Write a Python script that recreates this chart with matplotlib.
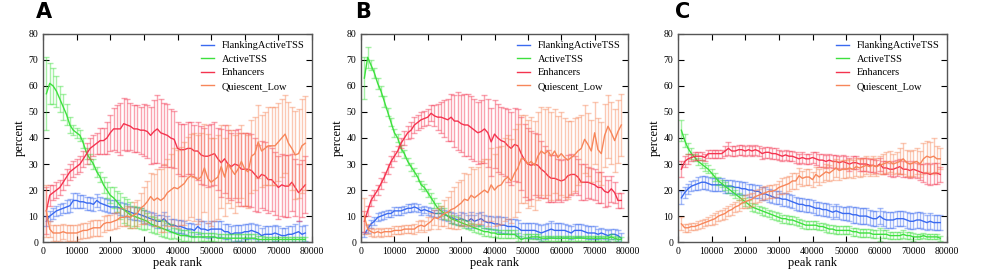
import numpy as np
import matplotlib
matplotlib.use("Agg")
import matplotlib.pyplot as plt

# =========================================
# DATA (percent per 1000-peak bin)
# =========================================
peak_rank = np.arange(1000, 79000, 1000)

labels = ["FlankingActiveTSS", "ActiveTSS", "Enhancers", "Quiescent_Low"]

# ---- panel A ----
a_flank = [8, 10, 11, 12, 12.5, 13, 13.5, 14, 16, 16,
           15.5, 15.5, 15, 15, 14.5, 16, 15, 14.5, 14, 13.5,
           13.5, 13.5, 13, 12.5, 12, 11.5, 11, 11, 10.5, 10,
           9.5, 9, 8.5, 8, 8, 9, 7.5, 6.5, 6.5, 6,
           6, 5.5, 5, 5, 4.5, 6, 5, 5, 4.5, 5,
           5, 5, 5, 4, 4, 3, 3.5, 3.5, 3.5, 4,
           4, 4.5, 4, 3.5, 2.5, 3, 3, 3, 3.5, 3,
           2.5, 2.5, 3, 3, 3.5, 4, 3, 3.5]
a_flank_err = [2, 2, 2, 2, 2, 2, 2.5, 2.5, 3, 3,
               2.5, 2.5, 2.5, 2.5, 2.5, 2.5, 2.5, 2.5, 2.5, 2.5,
               2.5, 2.5, 2.5, 2.5, 2.5, 2.5, 2.5, 2.5, 2.5, 2.5,
               2.5, 2.5, 2.5, 2.5, 2.5, 2.5, 2.5, 2.5, 2.5, 2.5,
               2.5, 2.5, 2.5, 2.5, 2.5, 3, 3, 3, 3, 3,
               3, 3, 3, 3, 3, 3, 3, 3, 3, 3,
               3, 3, 3, 3, 3, 3, 3, 3, 3, 3,
               3, 3, 3, 3, 3.5, 4, 3, 3]
a_active = [57, 61, 60, 58, 55, 52, 49, 45, 43, 42,
            41, 38, 34, 32, 30, 27, 25, 22, 20, 18,
            17, 15.5, 14, 12.5, 11.5, 10.5, 10, 9.5, 9, 8.5,
            8, 7, 6.5, 6, 5.5, 5, 4.5, 4, 3.5, 3,
            2.5, 2.5, 2.5, 2, 2, 2, 2, 2, 2, 2,
            2, 1.5, 1.5, 1.5, 1.5, 1.5, 1.5, 1.5, 1.5, 1.5,
            1.5, 1.5, 1.5, 1, 1, 1, 1, 1, 1, 1,
            1, 1, 1, 1, 1, 1, 1, 1]
a_active_err = [14, 8, 7, 6, 5, 5, 4, 3, 2, 2,
                2, 2, 2, 2, 2, 2, 2, 3, 3, 3,
                4, 4, 5, 5, 5, 5, 4, 4, 4, 4,
                3, 3, 3, 3, 3, 3, 3, 3, 2, 2,
                2, 2, 2, 2, 2, 2, 1.5, 1.5, 1.5, 1.5,
                1.5, 1.5, 1.5, 1.5, 1.5, 1.5, 1.5, 1.5, 1.5, 1.5,
                1.5, 1.5, 1.5, 1.5, 1.5, 1, 1, 1, 1, 1,
                1, 1, 1, 1, 1, 1, 1, 1]
a_enh = [12, 18, 19, 20, 21, 23, 25, 27, 28, 29,
         30, 32, 34, 36, 37, 38, 39, 39, 40, 42,
         43.5, 43.5, 43.5, 45.5, 45, 44.5, 43.5, 43.5, 43, 43,
         42.5, 41, 42.5, 43.5, 42, 41.5, 41, 40, 39.5, 36,
         35.5, 35.5, 36, 36, 35, 35, 33.5, 33, 33, 33.5,
         34, 32, 30.5, 32, 30, 29, 30, 29.5, 28, 28,
         28, 27.5, 26, 24.5, 26, 25.5, 24, 24, 22.5, 21,
         22, 21.5, 21.5, 23, 21, 19, 20.5, 22]
a_enh_err = [9, 4, 3, 3, 3, 3, 3, 3, 3, 3,
             3, 3, 4, 4, 4, 4, 5, 5, 6, 7,
             8, 9, 10, 10, 10, 9, 9, 9, 9, 10,
             10, 11, 12, 13, 13, 12, 12, 11, 11, 10,
             10, 10, 10, 10, 10, 11, 11, 11, 12, 12,
             12, 12, 13, 13, 13, 13, 13, 14, 14, 14,
             14, 14, 14, 13, 13, 13, 13, 12, 12, 12,
             12, 12, 12, 11, 11, 11, 11, 11]
a_quies = [12, 5, 3.5, 3.5, 3.5, 4, 3.5, 3.5, 3.5, 3.5,
           4, 4.5, 4.5, 5, 5.5, 5.5, 5.5, 7, 7.5, 7.5,
           8, 8.5, 9.5, 9.5, 10, 9.5, 10.5, 11, 13, 14,
           15.5, 17.5, 16, 17, 16, 17, 19, 20, 21, 20.5,
           21.5, 22.5, 24.5, 25.5, 25, 24, 25, 28.5, 24.5, 23,
           24, 25, 29, 25, 30, 28, 26, 28, 31, 28,
           27, 33, 34, 38.5, 35, 36, 37, 37, 37, 38.5,
           40, 41.5, 38, 36, 33.5, 34, 37, 38]
a_quies_err = [10, 3, 3, 3, 3, 3, 3, 3, 3, 3,
               3, 3, 3, 3, 3, 3, 3, 3, 3, 3,
               3, 3, 3.5, 3.5, 4, 4, 5, 5, 6, 7,
               8, 9, 10, 11, 12, 13, 13, 14, 15, 15,
               15, 16, 16, 16, 17, 17, 17, 17, 17, 17,
               16, 16, 16, 15, 15, 15, 15, 14, 14, 14,
               14, 14, 14, 14, 14, 14, 15, 15, 15, 15,
               15, 15, 16, 16, 17, 17, 18, 18]

# ---- panel B ----
b_flank = [3, 5, 7, 8, 9.5, 10, 10.5, 11, 11, 12,
           12, 12, 12.5, 13, 13, 13.5, 13, 12, 12.5, 12,
           11.5, 11, 11, 11, 10.5, 10, 9.5, 9, 8.5, 9,
           8.5, 8, 9, 8, 8.5, 9, 8, 7.5, 7.5, 7,
           7, 6.5, 6.5, 6, 6, 6, 5.5, 4.5, 4.5, 4.5,
           4.5, 4.5, 4, 3.5, 4, 4.5, 5, 4.5, 4.5, 4.5,
           4.5, 4, 3.5, 4.5, 4.5, 4.5, 4, 3.5, 3.5, 3.5,
           3, 3.5, 3, 2.5, 3, 3, 2.5, 1.5]
b_flank_err = [1, 1.5, 1.5, 1.5, 1.5, 1.5, 1.5, 1.5, 1.5, 1.5,
               1.5, 1.5, 1.5, 1.5, 1.5, 1.5, 1.5, 1.5, 1.5, 1.5,
               1.5, 1.5, 1.5, 2, 2, 2, 2, 2, 2, 2.5,
               2.5, 2.5, 2.5, 2.5, 2.5, 2.5, 2.5, 2.5, 2.5, 2.5,
               3, 3, 3, 3, 3, 3, 3, 3, 3, 3,
               3, 3, 3, 3, 3, 3, 3, 3, 3, 3,
               2.5, 2.5, 2.5, 2.5, 2.5, 2.5, 2.5, 2.5, 2.5, 2.5,
               2, 2, 2, 2, 2, 2, 2, 2]
b_active = [63, 71, 68, 65, 61, 58, 54, 50, 46, 42,
            40, 36, 34, 31, 29, 27, 25, 22, 21, 19,
            17, 15, 13, 12, 11, 10, 9, 8.5, 8, 7.5,
            7, 6.5, 6, 5.5, 5, 4.5, 4, 4, 3.5, 3.5,
            3, 3, 3, 3, 3, 3, 2, 1, 1.5, 1.5,
            2, 2, 2, 1.5, 1.5, 1.5, 1.5, 1.5, 1.5, 1.5,
            1.5, 1.5, 1.5, 1.5, 1.5, 1.5, 1.5, 1.5, 1.5, 1.5,
            1.5, 1.5, 1.5, 1.5, 2, 1.5, 1, 1]
b_active_err = [8, 4, 2, 2, 2, 2, 2, 1.5, 1.5, 1.5,
                1.5, 1.5, 1.5, 1.5, 1.5, 1.5, 1.5, 1.5, 1.5, 1.5,
                2, 2, 2, 2, 2, 1.5, 1.5, 1.5, 1.5, 1.5,
                1.5, 1.5, 1.5, 1.5, 1.5, 1.5, 1.5, 1.5, 1.5, 1.5,
                1.5, 1.5, 1.5, 1.5, 1.5, 1.5, 1.5, 1.5, 1.5, 1.5,
                1, 1, 1, 1, 1, 1, 1, 1, 1, 1,
                1, 1, 1, 1, 1, 1, 1, 1, 1, 1,
                1, 1, 1, 1, 1, 1, 1, 1]
b_enh = [8, 12, 16, 18, 20, 22.5, 25, 28, 31, 33,
         35, 38, 40, 42, 43, 45, 46, 47, 47.5, 48,
         49.5, 48.5, 48, 48, 47.5, 47, 48, 46.5, 46.5, 45.5,
         45, 45, 44, 43, 42, 42.5, 43.5, 42, 38.5, 41.5,
         40, 39, 38.5, 37, 36, 37.5, 37, 34, 31.5, 30,
         29.5, 30, 29.5, 28, 27, 25.5, 24.5, 24.5, 24, 23.5,
         24, 25.5, 26, 26, 25, 23, 23, 23, 22.5, 22,
         21, 21, 19.5, 19, 20.5, 19, 16, 16]
b_enh_err = [4, 2, 2, 2, 2, 2, 2, 2, 2, 2,
             2, 2, 2.5, 2.5, 3, 3, 3, 3, 3, 3,
             3, 4, 5, 6, 7, 8, 9, 10, 11, 11,
             12, 12, 12, 12, 12, 12, 13, 13, 13, 13,
             13, 13, 13, 14, 14, 14, 14, 14, 14, 14,
             13, 12, 12, 11, 10, 10, 9, 9, 8, 8,
             8, 8, 8, 7, 7, 7, 7, 6, 6, 6,
             6, 6, 6, 5, 5, 4, 3, 3]
b_quies = [10, 5, 4, 3.5, 4, 3.5, 4, 4, 4, 4.5,
           4.5, 4.5, 5, 5, 5, 5, 6, 6.5, 6, 7,
           8, 9.5, 9, 10, 11, 11.5, 12.5, 13, 14, 15,
           16.5, 16, 18, 17, 18, 19, 20, 19, 22, 20,
           21.5, 22, 24, 25, 23.5, 26.5, 28.5, 32, 32, 30,
           31, 29.5, 33, 35, 34, 35, 33, 35, 32.5, 34,
           32.5, 31.5, 32.5, 33.5, 35, 36, 39.5, 37.5, 35, 42,
           35.5, 34, 41, 44.5, 42, 39, 42.5, 45]
b_quies_err = [7, 2, 1.5, 1.5, 1.5, 1.5, 1.5, 1.5, 1.5, 1.5,
               1.5, 1.5, 1.5, 1.5, 1.5, 2, 2, 2, 2, 2.5,
               3, 3, 4, 4, 5, 6, 7, 8, 9, 9,
               10, 10, 11, 11, 11, 12, 12, 13, 14, 14,
               15, 15, 16, 16, 16, 17, 17, 17, 17, 17,
               17, 17, 17, 17, 17, 17, 17, 16, 16, 16,
               15, 15, 14, 14, 13, 13, 13, 12, 12, 12,
               12, 12, 12, 12, 12, 12, 12, 12]

# ---- panel C ----
c_flank = [17, 19, 20.5, 21.5, 22, 22.5, 23, 23, 22.5, 22,
           22, 22, 22, 21.5, 21.5, 21.5, 21, 21, 20.5, 20.5,
           20, 20, 19.5, 19.5, 18.5, 18.5, 18, 17.5, 17, 17,
           16.5, 16.5, 16, 15.5, 15, 14.5, 14.5, 14, 14, 13.5,
           13, 13, 12.5, 12.5, 12, 11.5, 12, 11.5, 11, 11,
           11, 10.5, 10.5, 10, 10, 10, 9.5, 9, 9, 10,
           9, 8.5, 8.5, 8.5, 9, 9, 9, 8.5, 8, 8,
           8.5, 8.5, 8, 7.5, 8, 7.5, 7.5, 7.5]
c_flank_err = [2.5, 2, 2, 2, 2, 2.5, 2.5, 2.5, 2.5, 2.5,
               2.5, 2.5, 2.5, 2.5, 2.5, 2.5, 2.5, 2.5, 2.5, 2.5,
               2.5, 2.5, 2.5, 2.5, 2.5, 2.5, 2.5, 2.5, 2.5, 2.5,
               2.5, 2.5, 2.5, 2.5, 2.5, 2.5, 2.5, 2.5, 2.5, 2.5,
               2.5, 2.5, 2.5, 2.5, 2.5, 2.5, 2.5, 2.5, 2.5, 2.5,
               3, 3, 3, 3, 3, 3, 3, 3, 3, 3,
               3, 3, 3, 3, 3, 3, 3, 3, 3, 3,
               3, 3, 3, 3, 3, 3, 3, 3]
c_active = [43, 39, 36, 34, 32.5, 31, 30, 29, 28, 26.5,
            25, 23.5, 22.5, 21.5, 20.5, 19.5, 18.5, 17.5, 16.5, 15.5,
            14.5, 13.5, 13, 12.5, 12, 11.5, 11, 10.5, 10, 9.5,
            9, 9, 8.5, 8.5, 8, 7.5, 7, 6.5, 6.5, 6.5,
            6.5, 6, 6, 5.5, 5, 5, 4.5, 4.5, 4.5, 4.5,
            4.5, 4, 4, 3.5, 3.5, 3.5, 3.5, 3, 3, 3,
            3, 3, 2.5, 2.5, 2.5, 2.5, 3, 2.5, 2.5, 2,
            2, 2, 2.5, 2, 2, 2, 2, 1.5]
c_active_err = [4, 2.5, 2, 2, 1.5, 1.5, 1.5, 1.5, 1.5, 1.5,
                1.5, 1.5, 1.5, 1.5, 1.5, 1.5, 1.5, 1.5, 1.5, 1.5,
                1.5, 1.5, 1.5, 1.5, 1.5, 1.5, 1.5, 1.5, 1.5, 1.5,
                1.5, 1.5, 1.5, 1.5, 1.5, 1.5, 1.5, 1.5, 1.5, 1.5,
                1.5, 1.5, 1.5, 1.5, 1.5, 1.5, 1.5, 1.5, 1.5, 1.5,
                1.5, 1.5, 1.5, 1.5, 1.5, 1.5, 1.5, 1.5, 1.5, 2.5,
                1.5, 1.5, 1.5, 1.5, 1.5, 1.5, 1.5, 1.5, 1.5, 1.5,
                1, 1, 1, 1, 1, 1, 1, 1]
c_enh = [28, 31, 32, 32.5, 33, 33, 33, 32.5, 34, 34,
         34, 34, 34, 35, 36, 35, 35, 35.5, 35.5, 35,
         35.5, 35, 35.5, 35, 34, 34.5, 34.5, 34, 34, 33.5,
         33, 33.5, 33, 33, 32.5, 32, 32.5, 32, 32, 32.5,
         32, 31.5, 31.5, 31, 31.5, 31, 31, 30.5, 31, 30.5,
         30, 30.5, 30.5, 30, 30, 30, 29.5, 29.5, 29, 30,
         28.5, 28.5, 28, 28, 28.5, 29, 28, 28, 27.5, 28,
         27.5, 27, 26.5, 26.5, 26, 26.5, 26.5, 26]
c_enh_err = [3, 2, 2, 1.5, 1.5, 1.5, 1.5, 1.5, 1.5, 1.5,
             1.5, 1.5, 1.5, 2, 2.5, 2, 2, 2, 2, 2,
             2, 2, 2, 2, 2, 2, 2, 2, 2, 2,
             2, 2, 2, 2, 2, 2, 2, 2, 2, 2,
             2.5, 2.5, 2.5, 2.5, 2.5, 2.5, 2.5, 2.5, 2.5, 2.5,
             2.5, 2.5, 2.5, 2.5, 2.5, 2.5, 2.5, 2.5, 2.5, 2.5,
             2.5, 2.5, 2.5, 3, 3, 3, 3, 3, 3, 3,
             3, 3, 3.5, 4, 4, 4, 4, 3]
c_quies = [7, 5.5, 5.5, 6, 6, 6.5, 7, 7.5, 8, 8.5,
           9, 10, 10.5, 11, 12, 12.5, 13.5, 14, 15, 15.5,
           16, 16.5, 17.5, 18, 18.5, 19, 19.5, 19.5, 20, 21,
           21.5, 22, 22.5, 23.5, 23.5, 25.5, 24.5, 25, 25, 24,
           26, 25, 26, 27, 26.5, 27.5, 28.5, 27.5, 28, 28,
           28.5, 28, 29, 28.5, 29, 29.5, 29, 29.5, 29, 29.5,
           30, 30.5, 31, 30, 30.5, 31, 32, 30.5, 30, 30.5,
           31, 30, 32, 33, 32.5, 33, 32, 32]
c_quies_err = [2.5, 1.5, 1.5, 1.5, 1.5, 1.5, 1.5, 1.5, 1.5, 2,
               2, 2, 2, 2, 2, 2, 2, 2, 2, 2.5,
               2.5, 2.5, 2.5, 2.5, 2.5, 2.5, 2.5, 2.5, 2.5, 2.5,
               3, 3, 3, 3, 3, 3, 3, 3, 3, 3,
               3, 3, 3, 3, 3, 3.5, 3.5, 3.5, 3.5, 3.5,
               3.5, 3.5, 3.5, 3.5, 3.5, 3.5, 3.5, 3.5, 3.5, 3.5,
               4, 4, 4, 4, 4, 5, 6, 5, 5, 5,
               5, 5, 6, 6, 6, 7, 5, 4]

# =========================================
# STYLE
# =========================================
colors = ["#3a6af0", "#3ee03e", "#f4334f", "#f7865a"]

plt.rcParams.update({
    "font.family": ["Liberation Serif", "DejaVu Serif"],
    "font.size": 8,
    "xtick.direction": "in",
    "ytick.direction": "in",
    "xtick.top": True,
    "ytick.right": True,
    "xtick.labelsize": 7,
    "ytick.labelsize": 7,
    "xtick.major.size": 4,
    "ytick.major.size": 4,
    "axes.linewidth": 1.0,
    "axes.edgecolor": "#555555",
})

fig = plt.figure(figsize=(9.81, 2.69), dpi=100)

# letter x position in pixels, axes rect
panels = [
    ("A", 36, [43 / 981, 0.100, 269 / 981, 0.774],
     [a_flank, a_active, a_enh, a_quies],
     [a_flank_err, a_active_err, a_enh_err, a_quies_err]),
    ("B", 355, [361 / 981, 0.100, 267 / 981, 0.774],
     [b_flank, b_active, b_enh, b_quies],
     [b_flank_err, b_active_err, b_enh_err, b_quies_err]),
    ("C", 675, [678 / 981, 0.100, 269 / 981, 0.774],
     [c_flank, c_active, c_enh, c_quies],
     [c_flank_err, c_active_err, c_enh_err, c_quies_err]),
]

for letter, lx, rect, series, errs in panels:
    ax = fig.add_axes(rect)
    for vals, err, col, lab in zip(series, errs, colors, labels):
        ax.errorbar(peak_rank, vals, yerr=err, fmt="none", ecolor=col,
                    alpha=0.45, elinewidth=1.0, capsize=2.2, capthick=1.0)
        ax.plot(peak_rank, vals, color=col, lw=1.0, label=lab)

    ax.set_xlim(0, 80000)
    ax.set_ylim(0, 80)
    ax.set_xticks(np.arange(0, 80001, 10000))
    ax.set_yticks(np.arange(0, 81, 10))
    ax.set_xlabel("peak rank", fontsize=9, labelpad=1)
    ax.set_ylabel("percent", fontsize=9, labelpad=2)
    ax.legend(loc="upper right", frameon=False, fontsize=7.5,
              handlelength=1.25, handletextpad=0.75, labelspacing=0.4,
              borderaxespad=0.3)

    fig.text(lx / 981, 1 - 2 / 269, letter, fontsize=15,
             fontweight="bold", family="DejaVu Sans", va="top", ha="left")

fig.savefig("out.png", dpi=100, facecolor="white")
